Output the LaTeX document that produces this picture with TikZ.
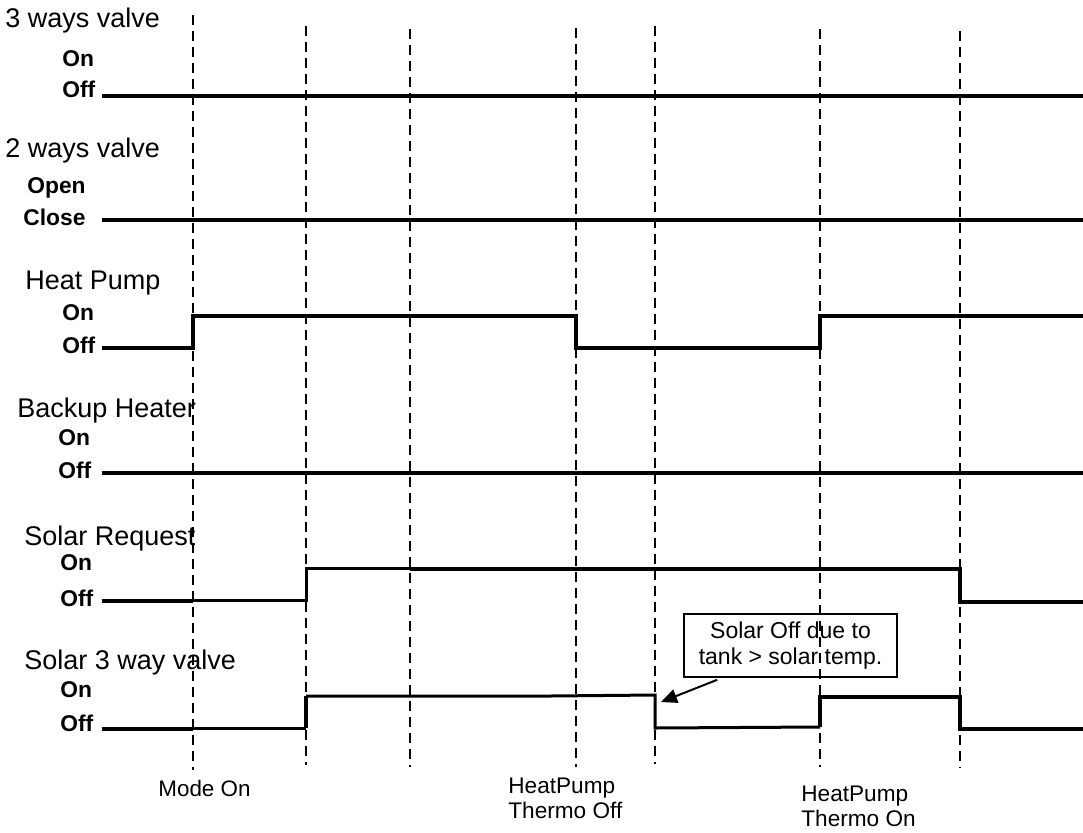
\documentclass[tikz,border=0pt]{standalone}
\usepackage{fontspec}
\setmainfont{Liberation Sans}
\usetikzlibrary{arrows.meta}

\begin{document}
\begin{tikzpicture}[x=0.5pt, y=-0.5pt, line join=miter,
		sig/.style={line width=2pt},
		sigthin/.style={line width=1.5pt},
		tline/.style={line width=1pt, dash pattern=on 5pt off 3pt},
		signame/.style={anchor=base west, inner sep=0pt, font=\fontsize{13.5}{16}\selectfont},
		lvl/.style={anchor=base west, inner sep=0pt, font=\fontsize{11.4}{13}\bfseries},
		evt/.style={anchor=north west, inner sep=0pt, align=left, font=\fontsize{11.3}{12.5}\selectfont}]
	\useasboundingbox (0,0) rectangle (1083,832);
	% time marks
	\foreach \x/\t/\b in {193/15/770, 306/26/765, 410/29/767, 576/28/767, 655/26/764, 820/29/767, 960/31/768}
	\draw[tline] (\x,\t) -- (\x,\b);
	% names and levels
	\foreach \y/\n/\x in {27/3 ways valve/5, 157/2 ways valve/5, 289/Heat Pump/25, 417/Backup Heater/17, 545/Solar Request/24, 669/Solar 3 way valve/24}
	\node[signame] (name\y) at (\x,\y) {\n};
	\foreach \y/\l/\x in {66/On/62, 97/Off/62, 193/Open/27, 225/Close/23, 320/On/62, 353/Off/62, 445/On/58, 478/Off/58, 570/On/60, 606/Off/60, 697/On/60, 731/Off/60}
	\node[lvl] (lv\y) at (\x,\y) {\l};
	% signals
	\draw[sig] (102,96) -- (1083,96);
	\draw[sig] (102,220) -- (1083,220);
	\draw[sig] (102,348) -| (193,316) -| (576,348) -| (820,316) -- (1083,316);
	\draw[sig] (102,473) -- (1083,473);
	\draw[sig] (102,601) -- (193,601);
	\draw[sigthin] (193,600) -- (306,600) |- (410,568);
	\draw[sig] (410,569) -| (960,602) -- (1083,602);
	\draw[sig] (102,729) -- (193,729);
	\draw[sigthin] (193,728) -- (306,728);
	\draw[sig] (306,728) -- (306,696);
	\draw[sigthin] (306,696) -- (550,696) -- (655,695) -- (655,728) -- (820,727);
	\draw[sig] (820,727) |- (960,697) |- (1083,729);
	% note
	\node[draw, line width=0.8pt, minimum width=106.5pt, minimum height=31.5pt, align=center,
		font=\fontsize{11.5}{13}\selectfont] (note) at (790.5,645.5) {Solar Off due to\\tank > solar temp.};
	\coordinate (drop) at (661,702);
	\draw[line width=1pt, -{Triangle[length=8pt, width=7pt]}] ([xshift=17pt, yshift=-1pt]note.south west) -- (drop);
	% events
	\node[lvl, font=\fontsize{11.2}{13}\selectfont] (modeon) at (158,796) {Mode On};
	\node[evt] (thoff) at (508,778) {HeatPump\\Thermo Off};
	\node[evt] (thon) at (801,786) {HeatPump\\Thermo On};
\end{tikzpicture}
\end{document}
